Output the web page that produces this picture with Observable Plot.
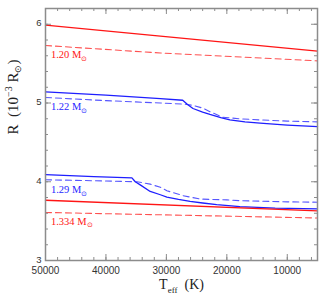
<!DOCTYPE html>
<html>
<head>
<meta charset="utf-8">
<script src="https://cdn.jsdelivr.net/npm/d3@7"></script>
<script src="https://cdn.jsdelivr.net/npm/@observablehq/plot@0.6"></script>
<style>
  html, body { margin: 0; padding: 0; background: #fff; }
  #chart { width: 319px; height: 307px; }
</style>
</head>
<body>
<div id="chart"></div>
<script>
// ---- Data (Teff in K, R in 1e-3 Rsun) ----
const t120Solid = [50000, 31000, 5000];
const r120Solid = [5.99, 5.85, 5.66];
const t120Dash  = [50000, 31000, 5000];
const r120Dash  = [5.73, 5.635, 5.535];

const t122Solid = [50000, 40000, 31000, 27300, 26500, 25600, 24000, 22800, 21000, 19500, 17000, 14500, 10000, 5000];
const r122Solid = [5.14, 5.10, 5.055, 5.035, 4.98, 4.93, 4.885, 4.855, 4.815, 4.785, 4.76, 4.745, 4.72, 4.70];
const t122Dash  = [50000, 40000, 31000, 27000, 25600, 24000, 22800, 20700, 18000, 14500, 10000, 5000];
const r122Dash  = [5.07, 5.03, 5.0, 4.985, 4.97, 4.935, 4.89, 4.82, 4.80, 4.785, 4.77, 4.76];

const t129Solid = [50000, 42000, 35700, 35150, 34330, 32680, 31000, 29920, 28000, 26080, 24000, 21670, 17830, 12000, 5000];
const r129Solid = [4.09, 4.065, 4.05, 4.0, 3.96, 3.877, 3.835, 3.806, 3.775, 3.75, 3.73, 3.71, 3.685, 3.665, 3.655];
const t129Dash  = [50000, 40000, 34870, 32680, 31000, 29920, 27230, 24420, 20000, 17830, 10000, 5000];
const r129Dash  = [4.025, 4.01, 4.0, 3.97, 3.93, 3.886, 3.823, 3.78, 3.77, 3.76, 3.745, 3.74];

const t1334Solid = [50000, 5000];
const r1334Solid = [3.765, 3.63];
const t1334Dash  = [50000, 5000];
const r1334Dash  = [3.61, 3.54];

const massLabels = ["1.20 M⊙", "1.22 M⊙", "1.29 M⊙", "1.334 M⊙"];
const labelT = [49100, 49100, 49100, 49100];
const labelR = [5.61, 4.95, 3.90, 3.50];
const labelColors = ["red", "blue", "blue", "red"];

const xMajor = [50000, 40000, 30000, 20000, 10000];
const xMinor = d3.range(50000, 4999, -2000);
const yMajor = [3, 4, 5, 6];
const yMinor = d3.range(3, 6.21, 0.2).map(v => +v.toFixed(1));

const RED = "#ff1515";
const BLUE = "#1e1eff";
const FRAME = "#8c8c8c";

const zip = (ts, rs) => ts.map((t, i) => ({t, r: rs[i]}));

const curves = [
  {data: zip(t120Solid, r120Solid), color: RED, dash: null},
  {data: zip(t120Dash, r120Dash), color: RED, dash: "6,4"},
  {data: zip(t122Solid, r122Solid), color: BLUE, dash: null},
  {data: zip(t122Dash, r122Dash), color: BLUE, dash: "6,4"},
  {data: zip(t129Solid, r129Solid), color: BLUE, dash: null},
  {data: zip(t129Dash, r129Dash), color: BLUE, dash: "6,4"},
  {data: zip(t1334Solid, r1334Solid), color: RED, dash: null},
  {data: zip(t1334Dash, r1334Dash), color: RED, dash: "6,4"}
];

const labels = massLabels.map((s, i) => ({s, t: labelT[i], r: labelR[i], c: labelColors[i] === "red" ? RED : BLUE}));

const XMAX = 50000, XMIN = 5000, YMIN = 3, YMAX = 6.2;
const kx = (XMAX - XMIN) / 272; // K per px
const ky = (YMAX - YMIN) / 252; // units per px

const marks = [];
curves.forEach(c => {
  marks.push(Plot.line(c.data, {x: "t", y: "r", stroke: c.color,
    strokeWidth: c.dash ? 1.1 : 1.3, strokeDasharray: c.dash, strokeOpacity: c.dash ? 0.75 : 1}));
});
// inward ticks
const xTicks = [...xMinor.map(v => ({v, L: 3})), ...xMajor.map(v => ({v, L: 6}))];
const yTicks = [...yMinor.map(v => ({v, L: 3})), ...yMajor.map(v => ({v, L: 6}))];
marks.push(Plot.ruleX(xTicks, {x: "v", y1: YMIN, y2: d => YMIN + d.L * ky, stroke: FRAME, strokeWidth: 1}));
marks.push(Plot.ruleX(xTicks, {x: "v", y1: YMAX, y2: d => YMAX - d.L * ky, stroke: FRAME, strokeWidth: 1}));
marks.push(Plot.ruleY(yTicks, {y: "v", x1: XMAX, x2: d => XMAX - d.L * kx, stroke: FRAME, strokeWidth: 1}));
marks.push(Plot.ruleY(yTicks, {y: "v", x1: XMIN, x2: d => XMIN + d.L * kx, stroke: FRAME, strokeWidth: 1}));
marks.push(Plot.frame({stroke: FRAME, strokeWidth: 1.5}));
marks.push(Plot.axisX({ticks: xMajor, tickSize: 0, tickPadding: 6, tickFormat: d => String(d), label: null,
  fontSize: 10, fill: "#333", fontFamily: "Liberation Sans"}));
marks.push(Plot.axisY({ticks: yMajor, tickSize: 0, tickPadding: 4, tickFormat: d => String(d), label: null,
  fontSize: 9.5, fill: "#333", fontFamily: "Liberation Sans", dy: -1}));
marks.push(Plot.text(labels, {x: "t", y: "r", text: "s", fill: "c", textAnchor: "start",
  fontSize: 10.5, fontFamily: "Liberation Serif"}));
marks.push(Plot.text(["X_TITLE"], {frameAnchor: "bottom", dy: 28, text: d => d, fontSize: 14,
  fontFamily: "Liberation Serif", fill: "#222"}));
marks.push(Plot.text(["Y_TITLE"], {frameAnchor: "left", dx: -32, rotate: -90, text: d => d, fontSize: 15,
  fontFamily: "Liberation Serif", fill: "#222"}));

const svg = Plot.plot({
  width: 319, height: 307,
  marginLeft: 45, marginRight: 2, marginTop: 8, marginBottom: 47,
  x: {domain: [XMAX, XMIN], axis: null},
  y: {domain: [YMIN, YMAX], axis: null},
  style: {background: "#fff"},
  marks
});

// rich text (sub/superscripts)
function rich(t, parts) {
  t.textContent = "";
  parts.forEach(p => {
    const ts = document.createElementNS("http://www.w3.org/2000/svg", "tspan");
    ts.textContent = p.s;
    if (p.dy) ts.setAttribute("dy", p.dy);
    if (p.fs) ts.setAttribute("font-size", p.fs);
    t.appendChild(ts);
  });
}
svg.querySelectorAll("text").forEach(t => {
  const s = t.textContent;
  if (s.endsWith(" M⊙")) {
    rich(t, [{s: s.slice(0, -1)}, {s: "⊙", dy: "3", fs: "7"}]);
  } else if (s === "X_TITLE") {
    rich(t, [{s: "T"}, {s: "eff", dy: "4", fs: "9"}, {s: "  (K)", dy: "-4"}]);
  } else if (s === "Y_TITLE") {
    rich(t, [{s: "R  (10"}, {s: "−3", dy: "-6", fs: "10"}, {s: " R", dy: "6"}, {s: "⊙", dy: "3", fs: "9"}, {s: ")", dy: "-3"}]);
  }
});
document.getElementById("chart").appendChild(svg);
</script>
</body>
</html>
